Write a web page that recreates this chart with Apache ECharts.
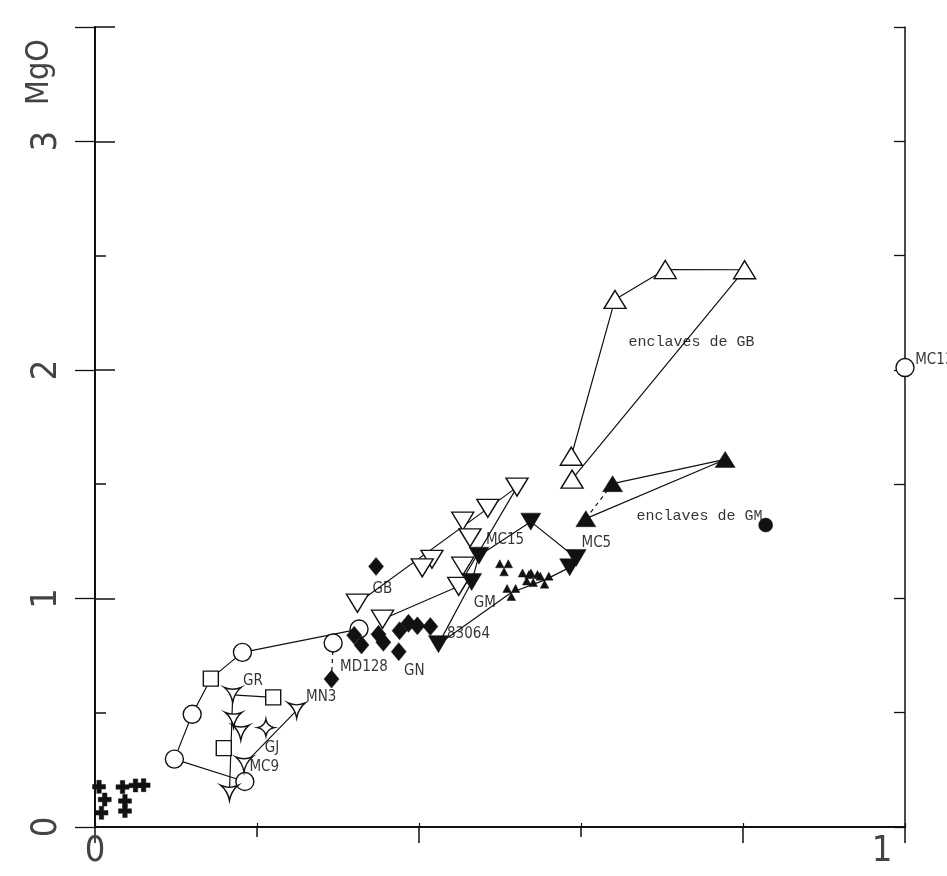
<!DOCTYPE html>
<html><head><meta charset="utf-8">
<script src="https://cdn.jsdelivr.net/npm/echarts@6/dist/echarts.min.js"></script>
<style>html,body{margin:0;padding:0;background:#fff}#c{width:947px;height:876px}</style>
</head><body><div id="c"></div>
<script>
// ---- data (x, MgO) ----
const openCircles   = [[0.326,0.866],[0.182,0.764],[0.120,0.493],[0.098,0.297],[0.185,0.199],[0.294,0.805],[1.0,2.01]];
const openSquares   = [[0.143,0.649],[0.220,0.567],[0.159,0.345]];
const triStars      = [[0.170,0.578],[0.171,0.469],[0.180,0.413],[0.249,0.510],[0.184,0.274],[0.166,0.149]];
const fourStars     = [[0.211,0.435]];
const crosses       = [[0.005,0.176],[0.012,0.120],[0.008,0.062],[0.034,0.175],[0.050,0.182],[0.060,0.183],[0.037,0.114],[0.037,0.070]];
const diamonds      = [[0.347,1.140],[0.292,0.647],[0.320,0.839],[0.329,0.796],[0.350,0.843],[0.356,0.808],[0.375,0.767],[0.376,0.859],[0.387,0.891],[0.398,0.880],[0.414,0.877]];
const openDownTri   = [[0.521,1.487],[0.485,1.394],[0.454,1.338],[0.463,1.265],[0.416,1.171],[0.404,1.134],[0.454,1.141],[0.449,1.053],[0.324,0.979],[0.355,0.909]];
const filledDownTri = [[0.538,1.336],[0.474,1.187],[0.465,1.072],[0.424,0.800],[0.586,1.136],[0.594,1.177]];
const trefoils      = [[0.505,1.134],[0.514,1.026],[0.533,1.094],[0.541,1.087],[0.555,1.080]];
const openUpTri     = [[0.704,2.439],[0.802,2.438],[0.642,2.308],[0.588,1.622],[0.589,1.522]];
const filledUpTri   = [[0.778,1.608],[0.639,1.502],[0.606,1.349]];
const filledCircles = [[0.828,1.321]];

// connecting lines (polylines through the points)
const grLine   = [[0.326,0.866],[0.182,0.764],[0.143,0.649],[0.120,0.493],[0.098,0.297],[0.185,0.199]];
const gjLine1  = [[0.220,0.567],[0.170,0.578],[0.166,0.149]];
const gjLine2  = [[0.249,0.510],[0.184,0.274]];
const mdLine   = [[0.294,0.805],[0.292,0.647]];
const gbLine   = [[0.355,0.909],[0.449,1.053],[0.521,1.487],[0.324,0.979]];
const gmLine   = [[0.594,1.177],[0.538,1.336],[0.474,1.187],[0.465,1.072],[0.424,0.800],[0.514,1.026],[0.555,1.080],[0.586,1.136]];
const egbLine  = [[0.588,1.622],[0.642,2.308],[0.704,2.439],[0.802,2.438],[0.589,1.522]];
const egmLine  = [[0.639,1.502],[0.778,1.608],[0.606,1.349]];
const egmDash  = [[0.639,1.502],[0.606,1.349]];

// text annotations [x, MgO, text]
const monoLabels = [[0.658,2.122,'enclaves de GB'],[0.668,1.362,'enclaves de GM']];
const sansLabels = [[1.012,2.041,'MC13'],[0.600,1.243,'MC5'],[0.482,1.254,'MC15'],[0.342,1.039,'GB'],
  [0.467,0.981,'GM'],[0.434,0.845,'83064'],[0.302,0.701,'MD128'],[0.381,0.680,'GN'],[0.182,0.637,'GR'],
  [0.260,0.568,'MN3'],[0.209,0.343,'GJ'],[0.190,0.261,'MC9']];

const xMin = 0, xMax = 1, yMin = 0, yMax = 3.5;
const xLabelVals = [0, 1];
const yLabelVals = [0, 1, 2, 3];
const yAxisTitle = 'MgO';

// ---- styling ----
const NARROW = '"DejaVu Sans Condensed","Liberation Sans Narrow","Liberation Sans",sans-serif';
const AXF = '"Liberation Sans Narrow","DejaVu Sans Condensed",sans-serif';
const INK = '#111';
const TRI_STAR = 'path://M-10,-6 Q0,-2 10,-6 Q2,0 0,10 Q-2,0 -10,-6 Z';
const FOUR_STAR = 'path://M0,-10 Q1.5,-1.5 10,0 Q1.5,1.5 0,10 Q-1.5,1.5 -10,0 Q-1.5,-1.5 0,-10 Z';
const TREFOIL = 'path://M0,0 L10,0 L5,-8.66 Z M0,0 L-5,-8.66 L-10,0 Z M0,0 L5,8.66 L-5,8.66 Z';
const CROSS = 'path://M-2.4,-7 L2.4,-7 L2.4,-2.4 L7,-2.4 L7,2.4 L2.4,2.4 L2.4,7 L-2.4,7 L-2.4,2.4 L-7,2.4 L-7,-2.4 L-2.4,-2.4 Z';
const DOWN_TRI = 'path://M-10,-8 L10,-8 L0,9 Z';
const UP_TRI = 'path://M0,-9 L10,8 L-10,8 Z';

function lineSeries(data, dashed) {
  return {type:'line', data, symbol:'none', silent:true, z:1, animation:false,
    lineStyle:{color:INK, width:1.2, type: dashed ? [4,4] : 'solid'}};
}
function scat(data, symbol, size, open, extra) {
  return Object.assign({type:'scatter', data, symbol, symbolSize:size, z:3, animation:false, silent:true, clip:false,
    itemStyle: open ? {color:'#fff', borderColor:INK, borderWidth:1.4, opacity:1}
                    : {color:INK, borderColor:INK, borderWidth:0.5, opacity:1}}, extra||{});
}
function labelSeries(data, font, size) {
  return {type:'scatter', data, symbol:'circle', symbolSize:1, z:5, animation:false, silent:true, clip:false,
    itemStyle:{color:'rgba(0,0,0,0)'},
    label:{show:true, position:'right', distance:0, formatter: p => p.data[2],
      fontFamily:font, fontSize:size, color:'#000'}};
}

const axisLineStyle = {color:INK, width:2};
const hiddenLabel = {show:false};

const option = {
  backgroundColor:'#fff',
  animation:false,
  grid:{left:95, right:42, top:27, bottom:49},
  xAxis:[
    {type:'value', min:xMin, max:xMax, interval:0.2, position:'bottom',
      axisLine:{lineStyle:axisLineStyle}, splitLine:{show:false},
      axisTick:{inside:true, length:4, lineStyle:{color:INK, width:1.2}},
      axisLabel:{formatter: v => { const r = Math.round(v*1000)/1000;
          if (!xLabelVals.includes(r)) return '';
          return r === xMax ? '{r|' + r + '}' : String(r); },
        rich:{r:{fontFamily:AXF, fontSize:36, color:'#444', padding:[0,46,0,0]}},
        fontFamily:AXF, fontSize:36, color:'#444', margin:7}},
    {type:'value', min:xMin, max:xMax, interval:0.2, position:'top',
      axisLine:{lineStyle:axisLineStyle}, splitLine:{show:false},
      axisTick:{inside:true, length:10, lineStyle:{color:INK, width:1.5}}, axisLabel:hiddenLabel},
    {type:'value', min:xMin, max:xMax, interval:0.4, position:'top',
      axisLine:{lineStyle:axisLineStyle}, splitLine:{show:false},
      axisTick:{inside:true, length:16, lineStyle:{color:INK, width:1.5}}, axisLabel:hiddenLabel}
  ],
  yAxis:[
    {type:'value', min:yMin, max:yMax, interval:1, position:'left',
      axisLine:{lineStyle:axisLineStyle}, splitLine:{show:false},
      axisTick:{inside:true, length:20, lineStyle:{color:INK, width:1.5}},
      axisLabel:{formatter: v => yLabelVals.includes(v) ? String(v) : '', rotate:90,
        fontFamily:AXF, fontSize:36, color:'#444', margin:30}},
    {type:'value', min:yMin, max:yMax, interval:0.5, position:'left',
      axisLine:{lineStyle:axisLineStyle}, splitLine:{show:false},
      axisTick:{inside:true, length:11, lineStyle:{color:INK, width:1.5}}, axisLabel:hiddenLabel},
    {type:'value', min:yMin, max:yMax, interval:1, position:'right',
      axisLine:{lineStyle:{color:INK, width:1.5}}, splitLine:{show:false},
      axisTick:{inside:true, length:20, lineStyle:{color:INK, width:1.3}}, axisLabel:hiddenLabel},
    {type:'value', min:yMin, max:yMax, interval:0.5, position:'right',
      axisLine:{lineStyle:{color:INK, width:1.5}}, splitLine:{show:false},
      axisTick:{inside:true, length:11, lineStyle:{color:INK, width:1.3}}, axisLabel:hiddenLabel}
  ],
  graphic:[
    {type:'text', x:40, y:72, rotation:Math.PI/2, z:10,
      style:{text:yAxisTitle, fontFamily:AXF, fontSize:32, fill:'#444', align:'center', verticalAlign:'middle'}}
  ],
  series:[
    lineSeries(grLine), lineSeries(gjLine1), lineSeries(gjLine2), lineSeries(mdLine, true),
    lineSeries(gbLine), lineSeries(gmLine), lineSeries(egbLine), lineSeries(egmLine), lineSeries(egmDash, true),
    scat(openCircles, 'circle', 18, true),
    scat(openSquares, 'rect', 15, true),
    scat(triStars, TRI_STAR, [17,15], true),
    scat(fourStars, FOUR_STAR, [17,17], true),
    scat(crosses, CROSS, [13,13], false),
    scat(diamonds, 'diamond', [15,18], false),
    scat(openDownTri, DOWN_TRI, [22,18], true),
    scat(filledDownTri, DOWN_TRI, [20,17], false),
    scat(trefoils, TREFOIL, [17,16], false),
    scat(openUpTri, UP_TRI, [22,18], true),
    scat(filledUpTri, UP_TRI, [20,16], false),
    scat(filledCircles, 'circle', 14, false),
    labelSeries(monoLabels, '"Liberation Mono","DejaVu Sans Mono",monospace', 15),
    labelSeries(sansLabels, NARROW, 15)
  ]
};
const chart = echarts.init(document.getElementById('c'), null, {renderer:'canvas'});
chart.setOption(option);
</script></body></html>
